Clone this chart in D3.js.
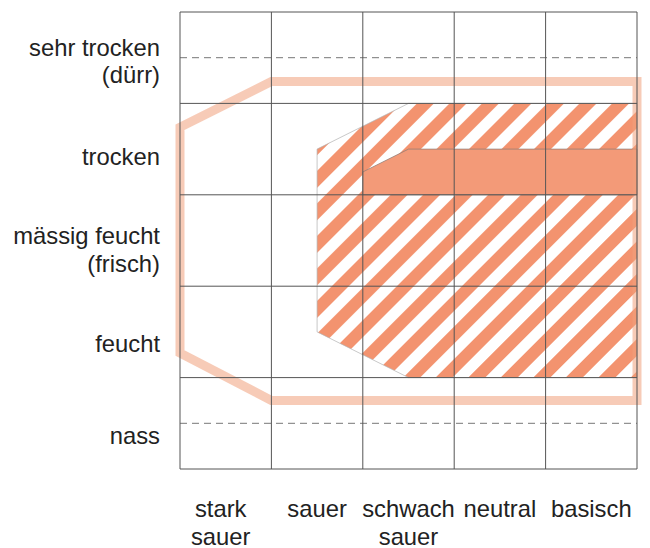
<!DOCTYPE html>
<html>
<head>
<meta charset="utf-8">
<script src="https://cdn.jsdelivr.net/npm/d3@7"></script>
<style>
  html, body { margin: 0; padding: 0; background: #fff; }
  svg { display: block; }
  text { font-family: "Liberation Sans", Arial, sans-serif; fill: #222; }
</style>
</head>
<body>
<svg id="chart" width="650" height="548"></svg>
<script>
// Moisture categories (rows, top to bottom)
const moistureLabels = [["sehr trocken", "(dürr)"], ["trocken"], ["mässig feucht", "(frisch)"], ["feucht"], ["nass"]];
// pH categories (columns, left to right)
const phLabels = [["stark", "sauer"], ["sauer"], ["schwach", "sauer"], ["neutral"], ["basisch"]];
// Sub-divisions drawn dashed (row midpoints)
const dashedRows = [0.5, 4.5];
// Physiological range outline (x = pH column units, y = moisture row units)
const physioRange = [[0, 1.26], [1, 0.76], [5, 0.76], [5, 4.25], [1, 4.25], [0, 3.73]];
// Ecological range (hatched)
const ecoRange = [[1.5, 1.5], [2.5, 1], [5, 1], [5, 4], [2.5, 4], [1.5, 3.5]];
// Optimum (solid)
const optimum = [[2, 1.75], [2.5, 1.5], [5, 1.5], [5, 2], [2, 2]];

const svg = d3.select("#chart");
const x = d3.scaleLinear().domain([0, 5]).range([180, 637]);
const y = d3.scaleLinear().domain([0, 5]).range([12, 469]);
const line = d3.line().x(d => x(d[0])).y(d => y(d[1])).curve(d3.curveLinearClosed);

const defs = svg.append("defs");
const pat = defs.append("pattern")
  .attr("id", "hatch")
  .attr("patternUnits", "userSpaceOnUse")
  .attr("width", 23).attr("height", 23)
  .attr("patternTransform", "rotate(45)");
pat.append("rect").attr("width", 23).attr("height", 23).attr("fill", "#fff");
pat.append("rect").attr("width", 12).attr("height", 23).attr("fill", "#f3936f");

// Hatched ecological range
svg.append("path").attr("d", line(ecoRange))
  .attr("fill", "url(#hatch)")
  .attr("stroke", "#b0b0b0").attr("stroke-width", 0.7);

// Optimum
svg.append("path").attr("d", line(optimum))
  .attr("fill", "#f39a78")
  .attr("stroke", "#8a7a74").attr("stroke-width", 0.7);

// Physiological range outline
svg.append("path").attr("d", line(physioRange))
  .attr("fill", "none")
  .attr("stroke", "#f0a07c").attr("stroke-opacity", 0.55)
  .attr("stroke-width", 9).attr("stroke-linejoin", "miter");

// Dashed sub-lines
svg.append("g").selectAll("line").data(dashedRows).join("line")
  .attr("x1", x(0)).attr("x2", x(5))
  .attr("y1", d => y(d)).attr("y2", d => y(d))
  .attr("stroke", "#777").attr("stroke-width", 1)
  .attr("stroke-dasharray", "7,5");

// Grid
const grid = svg.append("g");
grid.selectAll("line.v").data(d3.range(0, 6)).join("line").attr("class", "v")
  .attr("x1", d => x(d)).attr("x2", d => x(d))
  .attr("y1", y(0)).attr("y2", y(5))
  .attr("stroke", "#555").attr("stroke-width", 1);
grid.selectAll("line.h").data(d3.range(0, 6)).join("line").attr("class", "h")
  .attr("x1", x(0)).attr("x2", x(5))
  .attr("y1", d => y(d)).attr("y2", d => y(d))
  .attr("stroke", "#555").attr("stroke-width", 1);

const fs = 23.8, lh = 27.5;
const rowShift = [-3.5, 0, 2, 5, 5];

// Row labels
svg.append("g").selectAll("text").data(moistureLabels).join("text")
  .attr("text-anchor", "end")
  .attr("font-size", fs)
  .each(function (d, i) {
    const base = y(i + 0.5) + 15.5 + rowShift[i] - (d.length - 1) * lh / 2;
    d3.select(this).selectAll("tspan").data(d).join("tspan")
      .attr("x", 160)
      .attr("y", (t, j) => base + j * lh)
      .text(t => t);
  });

// Column labels
svg.append("g").selectAll("text").data(phLabels).join("text")
  .attr("text-anchor", "middle")
  .attr("font-size", fs)
  .each(function (d, i) {
    d3.select(this).selectAll("tspan").data(d).join("tspan")
      .attr("x", x(i + 0.5) - (i === 0 ? 5 : 0))
      .attr("y", (t, j) => 517 + j * lh)
      .text(t => t);
  });
</script>
</body>
</html>
